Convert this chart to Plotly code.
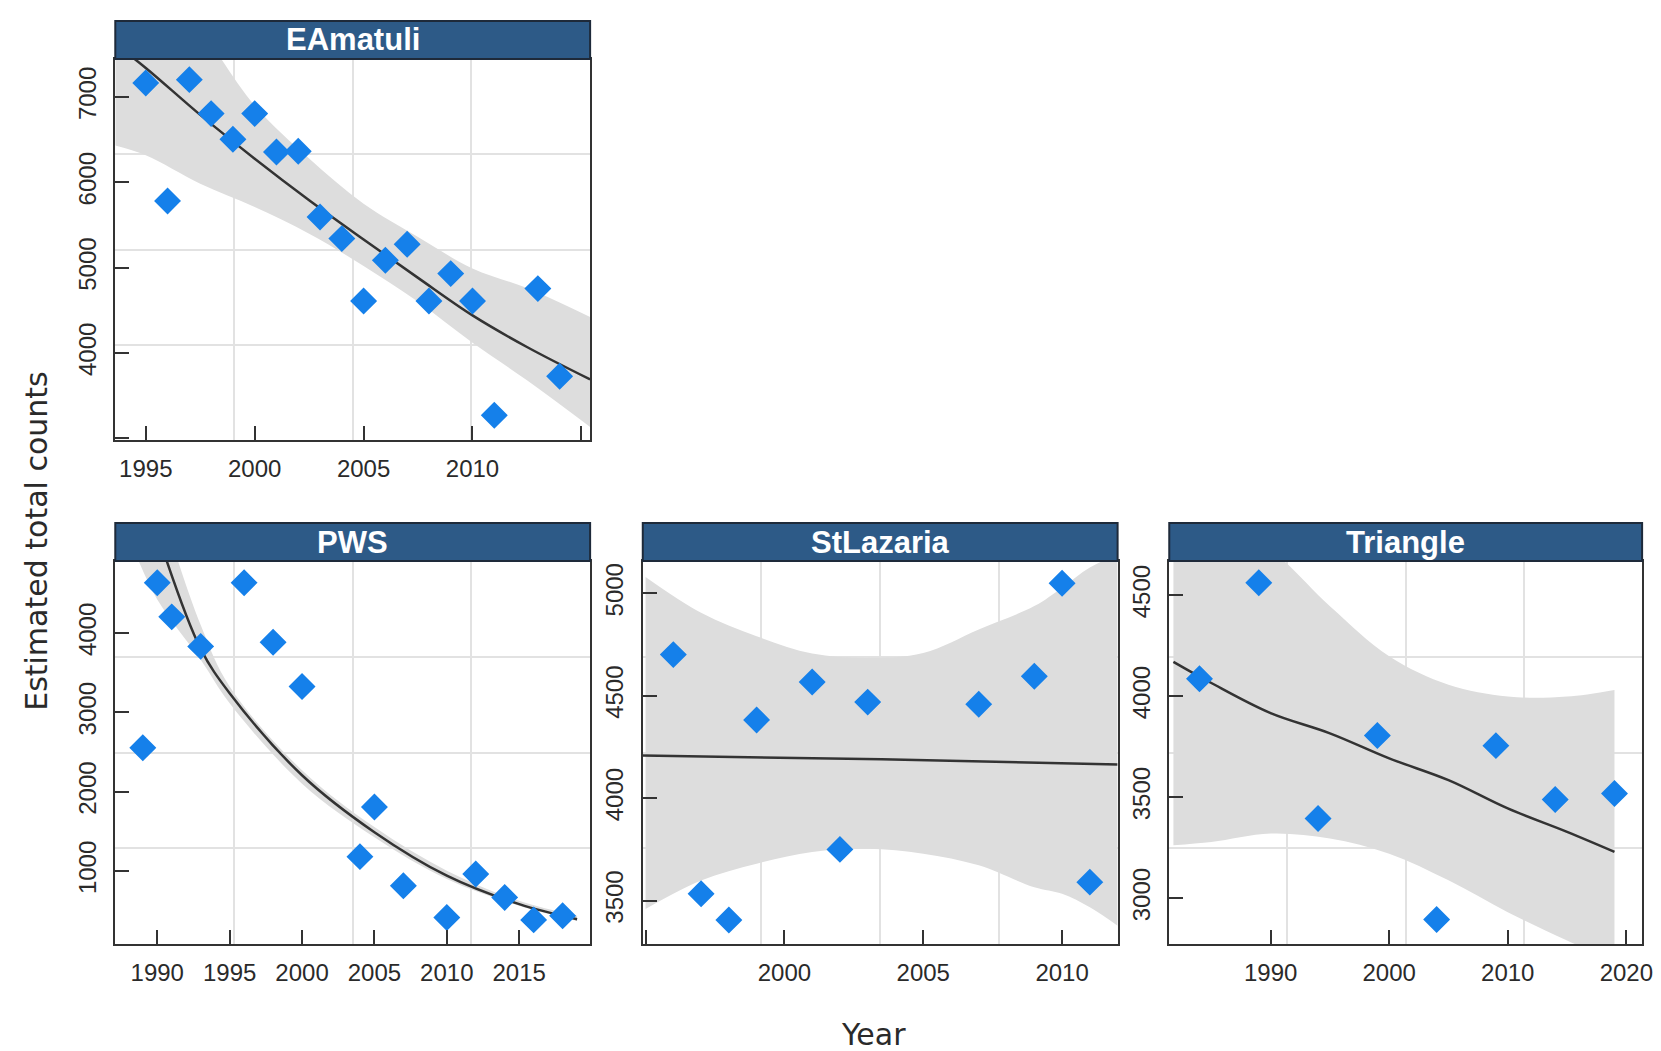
import plotly.graph_objects as go

# ---------------- data ----------------
# EAmatuli
ea_years = [1995, 1996, 1997, 1998, 1999, 2000, 2001, 2002, 2003, 2004, 2005, 2006,
            2007, 2008, 2009, 2010, 2011, 2013, 2014]
ea_counts = [7164, 5781, 7203, 6805, 6504, 6805, 6355, 6363, 5594, 5340, 4609, 5086,
             5273, 4609, 4930, 4609, 3270, 4754, 3727]
ea_fit_years = [1993.6, 1995, 1997.5, 2000, 2002.5, 2005, 2007.5, 2010, 2012.5, 2015.4]
ea_fit = [7620, 7340, 6790, 6277, 5790, 5330, 4880, 4440, 4070, 3690]
ea_hi = [8900, 8600, 7800, 6900, 6280, 5750, 5360, 4990, 4760, 4420]
ea_lo = [6430, 6316, 5984, 5711, 5398, 5020, 4600, 4120, 3680, 3133]

# PWS
pws_years = [1989, 1990, 1991, 1993, 1996, 1998, 2000, 2004, 2005, 2007, 2010, 2012,
             2014, 2016, 2018]
pws_counts = [2553, 4633, 4203, 3831, 4633, 3882, 3325, 1181, 1806, 814, 414, 962,
              667, 384, 435]
pws_fit_years = [1990.5, 1993, 1995, 2000, 2005, 2010, 2015, 2019]
pws_fit = [4990, 3800, 3240, 2207, 1489, 941, 582, 392]
pws_band_years = [1988.5, 1990, 1993, 1995, 2000, 2005, 2010, 2015, 2019]
pws_lo = [5000, 4422, 3662, 3114, 2101, 1426, 899, 561, 371]
pws_hi = [6500, 5700, 4100, 3325, 2270, 1553, 1004, 624, 435]

# StLazaria
stl_years = [1996, 1997, 1998, 1999, 2001, 2002, 2003, 2007, 2009, 2010, 2011]
stl_counts = [4701, 3533, 3405, 4382, 4567, 3750, 4469, 4459, 4595, 5049, 3590]
stl_fit_years = [1994.9, 2003.5, 2012.0]
stl_fit = [4208, 4190, 4165]
stl_band_years = [1995.0, 1997, 1999, 2001, 2003, 2005, 2007, 2009, 2010, 2011, 2012]
stl_hi = [5080, 4905, 4791, 4706, 4685, 4709, 4824, 4938, 5028, 5126, 5190]
stl_lo = [3459, 3598, 3680, 3737, 3753, 3729, 3672, 3565, 3533, 3467, 3377]

# Triangle
tri_years = [1984, 1989, 1994, 1999, 2004, 2009, 2014, 2019]
tri_counts = [4086, 4561, 3394, 3805, 2894, 3755, 3488, 3518]
tri_fit_years = [1981.8, 1985, 1990, 1995, 2000, 2005, 2010, 2015, 2019]
tri_fit = [4170, 4065, 3916, 3816, 3692, 3584, 3444, 3328, 3229]
tri_hi = [4900, 4850, 4720, 4445, 4197, 4056, 3998, 3998, 4031]
tri_lo = [3262, 3278, 3320, 3295, 3220, 3088, 2930, 2790, 2690]

# axis ranges and ticks
ea_xrange, ea_yrange = [1993.6, 2015.4], [2980, 7445]
pws_xrange, pws_yrange = [1987.1, 2019.9], [80, 4907]
stl_xrange, stl_yrange = [1994.9, 2012.0], [3288, 5158]
tri_xrange, tri_yrange = [1981.45, 2021.33], [2773, 4669]

ea_xticks, ea_xlabels = [1995, 2000, 2005, 2010, 2015], ["1995", "2000", "2005", "2010", ""]
ea_yticks, ea_ylabels = [3000, 4000, 5000, 6000, 7000], ["", "4000", "5000", "6000", "7000"]
pws_xticks = [1990, 1995, 2000, 2005, 2010, 2015]
pws_xlabels = ["1990", "1995", "2000", "2005", "2010", "2015"]
pws_yticks, pws_ylabels = [1000, 2000, 3000, 4000], ["1000", "2000", "3000", "4000"]
stl_xticks, stl_xlabels = [1995, 2000, 2005, 2010], ["", "2000", "2005", "2010"]
stl_yticks, stl_ylabels = [3500, 4000, 4500, 5000], ["3500", "4000", "4500", "5000"]
tri_xticks, tri_xlabels = [1990, 2000, 2010, 2020], ["1990", "2000", "2010", "2020"]
tri_yticks, tri_ylabels = [3000, 3500, 4000, 4500], ["3000", "3500", "4000", "4500"]

panel_names = ["EAmatuli", "PWS", "StLazaria", "Triangle"]

# ---------------- layout geometry (pixels) ----------------
W, H = 1661, 1051
boxes = [(108, 586, 51, 432), (108, 586, 553, 936), (639, 1117, 553, 936), (1169, 1645, 553, 936)]
STRIP_H = 38

PT_COLOR = "#1580EA"
BAND_COLOR = "#DDDDDD"
LINE_COLOR = "#333333"
STRIP_FILL = "#2D5A87"
STRIP_EDGE = "#1E2A3A"
TICK_FONT = dict(family="Liberation Sans, Arial, sans-serif", size=24, color="#2A2A2A")

panels = [
    (ea_years, ea_counts, ea_fit_years, ea_fit, ea_fit_years, ea_lo, ea_hi,
     ea_xrange, ea_yrange, ea_xticks, ea_xlabels, ea_yticks, ea_ylabels),
    (pws_years, pws_counts, pws_fit_years, pws_fit, pws_band_years, pws_lo, pws_hi,
     pws_xrange, pws_yrange, pws_xticks, pws_xlabels, pws_yticks, pws_ylabels),
    (stl_years, stl_counts, stl_fit_years, stl_fit, stl_band_years, stl_lo, stl_hi,
     stl_xrange, stl_yrange, stl_xticks, stl_xlabels, stl_yticks, stl_ylabels),
    (tri_years, tri_counts, tri_fit_years, tri_fit, tri_fit_years, tri_lo, tri_hi,
     tri_xrange, tri_yrange, tri_xticks, tri_xlabels, tri_yticks, tri_ylabels),
]

fig = go.Figure()
layout = dict(
    width=W, height=H, margin=dict(l=0, r=0, t=0, b=0),
    paper_bgcolor="white", plot_bgcolor="white", showlegend=False,
    shapes=[], annotations=[],
)

for i, (px, py, fx, fy, bx, blo, bhi, xr, yr, xt, xl, yt, yl) in enumerate(panels):
    n = "" if i == 0 else str(i + 1)
    xa, ya = "x" + n, "y" + n
    x0, x1, y0, y1 = boxes[i]
    # confidence band
    fig.add_trace(go.Scatter(x=bx, y=blo, mode="lines", line=dict(width=0, shape="spline"),
                             xaxis=xa, yaxis=ya, hoverinfo="skip"))
    fig.add_trace(go.Scatter(x=bx, y=bhi, mode="lines", line=dict(width=0, shape="spline"),
                             fill="tonexty", fillcolor=BAND_COLOR, xaxis=xa, yaxis=ya,
                             hoverinfo="skip"))
    # fitted line
    fig.add_trace(go.Scatter(x=fx, y=fy, mode="lines",
                             line=dict(color=LINE_COLOR, width=2.5, shape="spline"),
                             xaxis=xa, yaxis=ya))
    # points
    fig.add_trace(go.Scatter(x=px, y=py, mode="markers",
                             marker=dict(symbol="diamond", size=18, color=PT_COLOR,
                                         line=dict(color=PT_COLOR, width=2.5)),
                             xaxis=xa, yaxis=ya))

    gx = [xr[0] + (xr[1] - xr[0]) * k / 4 for k in (1, 2, 3)]
    gy = [yr[0] + (yr[1] - yr[0]) * k / 4 for k in (1, 2, 3)]
    common = dict(showline=True, mirror=True, linecolor=LINE_COLOR, linewidth=2,
                  ticks="inside", ticklen=14, tickwidth=2, tickcolor=LINE_COLOR,
                  tickmode="array", showgrid=False, zeroline=False, tickfont=TICK_FONT,
                  fixedrange=True)
    layout["xaxis" + n] = dict(
        common, domain=[x0 / W, x1 / W], range=xr, anchor=ya, tickvals=xt, ticktext=xl,
        ticklabelstandoff=6,
        minor=dict(tickmode="array", tickvals=gx, showgrid=True, gridcolor="#E2E2E2",
                   gridwidth=1.5, ticks=""))
    layout["yaxis" + n] = dict(
        common, domain=[1 - y1 / H, 1 - y0 / H], range=yr, anchor=xa, tickvals=yt,
        ticktext=yl, tickangle=-90, ticklabelstandoff=8,
        minor=dict(tickmode="array", tickvals=gy, showgrid=True, gridcolor="#E2E2E2",
                   gridwidth=1.5, ticks=""))
    # strip
    layout["shapes"].append(dict(type="rect", xref="paper", yref="paper",
                                 x0=x0 / W, x1=x1 / W, y0=1 - y0 / H, y1=1 - (y0 - STRIP_H) / H,
                                 fillcolor=STRIP_FILL, line=dict(color=STRIP_EDGE, width=2)))
    layout["annotations"].append(dict(text="<b>" + panel_names[i] + "</b>", xref="paper",
                                      yref="paper", x=(x0 + x1) / 2 / W,
                                      y=1 - (y0 - STRIP_H / 2) / H, showarrow=False,
                                      font=dict(family="Liberation Sans, Arial, sans-serif",
                                                size=31, color="white"),
                                      xanchor="center", yanchor="middle"))

TITLE_FONT = dict(family="DejaVu Sans, sans-serif", size=30, color="#2A2A2A")
layout["annotations"].append(dict(text="Estimated total counts", xref="paper", yref="paper",
                                  x=28 / W, y=1 - 533 / H, textangle=-90, showarrow=False,
                                  font=TITLE_FONT, xanchor="center", yanchor="middle"))
layout["annotations"].append(dict(text="Year", xref="paper", yref="paper",
                                  x=871 / W, y=1 - 1026 / H, showarrow=False,
                                  font=TITLE_FONT, xanchor="center", yanchor="middle"))

fig.update_layout(**layout)
fig.write_html("out.html")
